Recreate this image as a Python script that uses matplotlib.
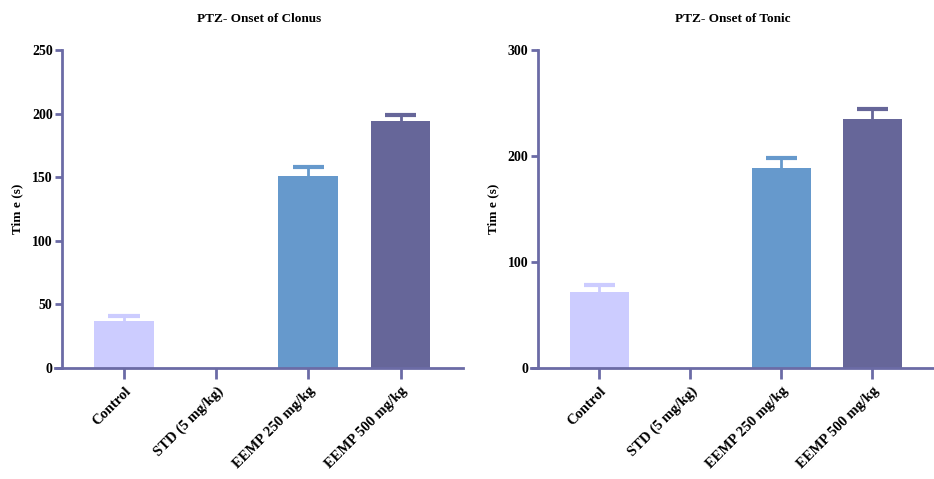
import matplotlib.pyplot as plt
import numpy as np

groups = ['Control', 'STD (5 mg/kg)', 'EEMP 250 mg/kg', 'EEMP 500 mg/kg']
clonus_mean = [37, 0, 151, 194]
clonus_sem = [4, 0, 7, 5]
tonic_mean = [72, 0, 189, 235]
tonic_sem = [6, 0, 9, 9]
colors = ['#CCCCFF', '#FFFFFF', '#6699CC', '#666699']
spine_col = '#6B6BA6'

plt.rcParams['font.family'] = ['Liberation Serif', 'DejaVu Serif']
plt.rcParams['font.weight'] = 'bold'

fig = plt.figure(figsize=(9.34, 4.79), dpi=100)
ax1 = fig.add_axes([0.0589, 0.2317, 0.437, 0.664])
ax2 = fig.add_axes([0.5685, 0.2317, 0.4315, 0.664])


def panel(ax, means, sems, title, ymax, step):
    x = np.arange(len(groups))
    ax.bar(x, means, width=0.65, color=colors, zorder=2)
    for i in range(len(groups)):
        if means[i] > 0:
            top = means[i] + sems[i]
            ax.vlines(x[i], means[i], top, color=colors[i], lw=2, zorder=1)
            ax.hlines(top, x[i] - 0.17, x[i] + 0.17, color=colors[i], lw=3, zorder=1)
    ax.set_xlim(-0.75, 3.68)
    ax.set_ylim(0, ymax)
    ax.set_yticks(np.arange(0, ymax + 1, step))
    ax.set_xticks(x)
    ax.set_xticklabels(groups, rotation=45, ha='right', rotation_mode='anchor',
                       fontsize=10.5, fontweight='bold')
    for lab in ax.get_yticklabels():
        lab.set_fontsize(9.5)
        lab.set_fontweight('bold')
    ax.spines['top'].set_visible(False)
    ax.spines['right'].set_visible(False)
    ax.spines['left'].set_position(('data', -0.67))
    for s in ['left', 'bottom']:
        ax.spines[s].set_color(spine_col)
        ax.spines[s].set_linewidth(2)
    ax.tick_params(axis='y', length=5, width=2, color=spine_col, pad=2)
    ax.tick_params(axis='x', length=8, width=2, color=spine_col, pad=4)
    ax.set_ylabel('Tim e (s)', fontsize=9.5, fontweight='bold', labelpad=6)
    ax.set_title(title, fontsize=9.5, fontweight='bold', pad=20)


panel(ax1, clonus_mean, clonus_sem, 'PTZ- Onset of Clonus', 250, 50)
panel(ax2, tonic_mean, tonic_sem, 'PTZ- Onset of Tonic', 300, 100)

fig.savefig('out.png', dpi=100)
